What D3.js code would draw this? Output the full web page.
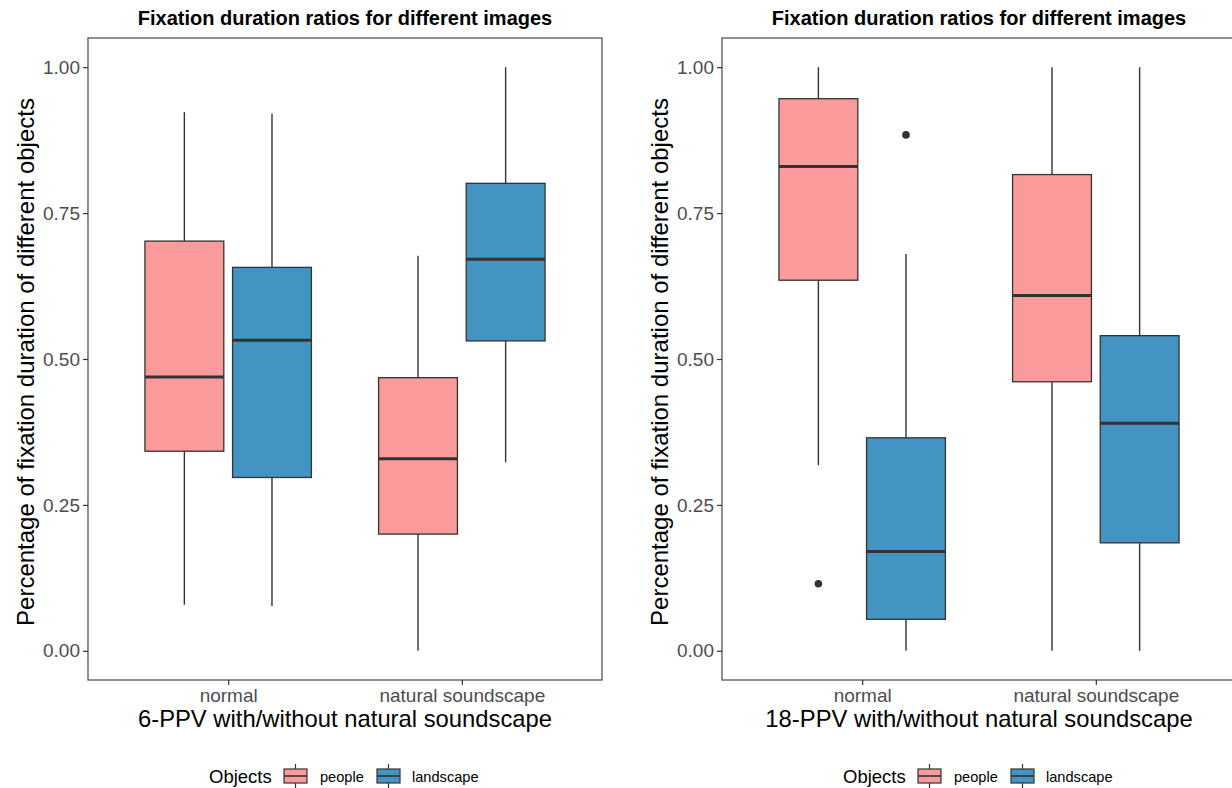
<!DOCTYPE html>
<html>
<head>
<meta charset="utf-8">
<script src="https://cdn.jsdelivr.net/npm/d3@7"></script>
<style>
  body { margin: 0; background: #fff; }
  svg { display: block; font-family: "Liberation Sans", Arial, sans-serif; }
</style>
</head>
<body>
<div class="chart"></div>
<script>
// Data: [lower whisker, q1, median, q3, upper whisker]
const categories = ["normal", "natural soundscape"]
const objects = ["people", "landscape"]
const yTicks = [0, 0.25, 0.5, 0.75, 1]

const ppv6People = [[0.079, 0.342, 0.469, 0.702, 0.923], [0.000, 0.200, 0.329, 0.468, 0.677]]
const ppv6Landscape = [[0.077, 0.297, 0.532, 0.657, 0.920], [0.323, 0.531, 0.671, 0.801, 1.000]]
const ppv6PeopleOutliers = [[], []]
const ppv6LandscapeOutliers = [[], []]

const ppv18People = [[0.318, 0.635, 0.830, 0.946, 1.000], [0.000, 0.461, 0.609, 0.816, 1.000]]
const ppv18Landscape = [[0.000, 0.054, 0.170, 0.365, 0.680], [0.000, 0.185, 0.390, 0.540, 1.000]]
const ppv18PeopleOutliers = [[0.115], []]
const ppv18LandscapeOutliers = [[0.884], []]

const colors = { people: "#FA9A9A", landscape: "#4393C3" }
const ink = "#333333"

const svg = d3.select(".chart")
  .append("svg")
  .attr("width", 1232)
  .attr("height", 788)

function drawPanel(opts) {
  const { left, right, top, bottom, xTitle, people, landscape, peopleOut, landscapeOut } = opts
  const g = svg.append("g")

  // scales
  const xScale = d3.scalePoint()
    .domain(categories)
    .range([left, right])
    .padding(0.6)
  const step = xScale.step()

  const yScale = d3.scaleLinear()
    .domain([-0.05, 1.05])
    .range([bottom, top])

  const dodge = d3.scaleOrdinal()
    .domain(objects)
    .range([-0.1875 * step, 0.1875 * step])
  const boxW = 0.3375 * step

  // boxes
  const rows = []
  categories.forEach((c, i) => {
    rows.push({ cat: c, obj: "people", s: people[i], out: peopleOut[i] })
    rows.push({ cat: c, obj: "landscape", s: landscape[i], out: landscapeOut[i] })
  })

  rows.forEach(d => {
    const cx = xScale(d.cat) + dodge(d.obj)
    const [lo, q1, med, q3, hi] = d.s

    g.append("line")
      .attr("x1", cx).attr("x2", cx)
      .attr("y1", yScale(hi)).attr("y2", yScale(q3))
      .attr("stroke", ink).attr("stroke-width", 1.4)
    g.append("line")
      .attr("x1", cx).attr("x2", cx)
      .attr("y1", yScale(q1)).attr("y2", yScale(lo))
      .attr("stroke", ink).attr("stroke-width", 1.4)

    g.append("rect")
      .attr("x", cx - boxW / 2)
      .attr("y", yScale(q3))
      .attr("width", boxW)
      .attr("height", yScale(q1) - yScale(q3))
      .attr("fill", colors[d.obj])
      .attr("stroke", ink)
      .attr("stroke-width", 1.3)

    g.append("line")
      .attr("x1", cx - boxW / 2).attr("x2", cx + boxW / 2)
      .attr("y1", yScale(med)).attr("y2", yScale(med))
      .attr("stroke", ink).attr("stroke-width", 3)

    d.out.forEach(v => {
      g.append("circle")
        .attr("cx", cx).attr("cy", yScale(v))
        .attr("r", 3.8)
        .attr("fill", ink)
    })
  })

  // panel border
  g.append("rect")
    .attr("x", left).attr("y", top)
    .attr("width", right - left).attr("height", bottom - top)
    .attr("fill", "none")
    .attr("stroke", "#555")
    .attr("stroke-width", 1.3)

  // axes
  const yAxis = g.append("g")
    .attr("transform", `translate(${left},0)`)
    .call(d3.axisLeft(yScale).tickValues(yTicks).tickFormat(d3.format(".2f")).tickSize(5).tickPadding(3))
  const xAxis = g.append("g")
    .attr("transform", `translate(0,${bottom})`)
    .call(d3.axisBottom(xScale).tickSize(5).tickPadding(4))

  ;[yAxis, xAxis].forEach(a => {
    a.select(".domain").remove()
    a.selectAll(".tick line").attr("stroke", ink).attr("stroke-width", 1.2)
    a.selectAll(".tick text")
      .attr("fill", "#4D4D4D")
      .style("font-size", "19px")
      .style("font-family", "Liberation Sans, Arial, sans-serif")
  })

  const cx = (left + right) / 2

  // titles
  g.append("text")
    .attr("x", cx).attr("y", 25)
    .attr("text-anchor", "middle")
    .style("font-size", "20px").style("font-weight", "bold")
    .text("Fixation duration ratios for different images")

  g.append("text")
    .attr("x", cx).attr("y", 727)
    .attr("text-anchor", "middle")
    .style("font-size", "23.8px")
    .text(xTitle)

  g.append("text")
    .attr("transform", `translate(${left - 54},${(top + bottom) / 2 + 3}) rotate(-90)`)
    .attr("text-anchor", "middle")
    .style("font-size", "24px")
    .text("Percentage of fixation duration of different objects")

  // legend
  const legend = g.append("g").attr("transform", `translate(${cx},776)`)
  legend.append("text")
    .attr("x", -136).attr("y", 6.5)
    .style("font-size", "18.5px")
    .text("Objects")

  const keyX = { people: -61, landscape: 32 }
  const labelX = { people: -25, landscape: 67 }
  objects.forEach(o => {
    const k = legend.append("g").attr("transform", `translate(${keyX[o]},0)`)
    k.append("line")
      .attr("x1", 11.5).attr("x2", 11.5).attr("y1", -12).attr("y2", 12)
      .attr("stroke", ink).attr("stroke-width", 1.2)
    k.append("rect")
      .attr("x", 0).attr("y", -7).attr("width", 23).attr("height", 14)
      .attr("fill", colors[o]).attr("stroke", ink).attr("stroke-width", 1.2)
    k.append("line")
      .attr("x1", 0).attr("x2", 23).attr("y1", 0).attr("y2", 0)
      .attr("stroke", ink).attr("stroke-width", 1.6)
    legend.append("text")
      .attr("x", labelX[o]).attr("y", 5.5)
      .style("font-size", "14.6px")
      .text(o)
  })
}

drawPanel({
  left: 88, right: 602, top: 38, bottom: 680,
  xTitle: "6-PPV with/without natural soundscape",
  people: ppv6People, landscape: ppv6Landscape,
  peopleOut: ppv6PeopleOutliers, landscapeOut: ppv6LandscapeOutliers
})

drawPanel({
  left: 722, right: 1236, top: 38, bottom: 680,
  xTitle: "18-PPV with/without natural soundscape",
  people: ppv18People, landscape: ppv18Landscape,
  peopleOut: ppv18PeopleOutliers, landscapeOut: ppv18LandscapeOutliers
})
</script>
</body>
</html>
